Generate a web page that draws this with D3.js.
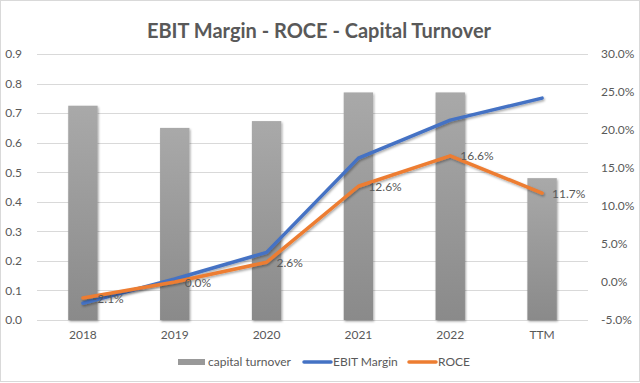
<!DOCTYPE html>
<html>
<head>
<meta charset="utf-8">
<script src="https://cdn.jsdelivr.net/npm/d3@7"></script>
<style>
  body { margin: 0; background: #fff; }
  #chart text { font-family: Lato, "Open Sans", sans-serif; fill: #595959; }
</style>
</head>
<body>
<div id="chart"></div>
<script>
var categories = ["2018", "2019", "2020", "2021", "2022", "TTM"];
var capitalTurnover = [0.725, 0.65, 0.673, 0.77, 0.77, 0.48];
var ebitMargin = [-2.8, 0.4, 3.9, 16.3, 21.3, 24.2];
var roce = [-2.1, 0.0, 2.6, 12.6, 16.6, 11.7];
var leftTicks = [0, 0.1, 0.2, 0.3, 0.4, 0.5, 0.6, 0.7, 0.8, 0.9];
var rightTicks = [-5, 0, 5, 10, 15, 20, 25, 30];

var W = 640, H = 383;
var margin = {top: 54, right: 52, bottom: 63, left: 37},
    width = W - margin.left - margin.right,
    height = H - margin.top - margin.bottom;

var svg = d3.select("#chart").append("svg")
    .attr("width", W)
    .attr("height", H);

var defs = svg.append("defs");
var grad = defs.append("linearGradient").attr("id", "barGrad")
    .attr("x1", 0).attr("y1", 0).attr("x2", 0).attr("y2", 1);
grad.append("stop").attr("offset", "0%").attr("stop-color", "#a9a9a9");
grad.append("stop").attr("offset", "100%").attr("stop-color", "#8a8a8a");
var sh = defs.append("filter").attr("id", "shadow")
    .attr("x", "-20%").attr("y", "-20%").attr("width", "140%").attr("height", "140%");
sh.append("feDropShadow").attr("dx", 1).attr("dy", 1.5).attr("stdDeviation", 1)
    .attr("flood-color", "#000").attr("flood-opacity", 0.35);

// border
svg.append("rect")
    .attr("x", 0.5).attr("y", 0.5)
    .attr("width", W - 1).attr("height", H - 2)
    .attr("fill", "none").attr("stroke", "#d9d9d9");

svg.append("text")
    .attr("x", 319).attr("y", 38)
    .attr("text-anchor", "middle")
    .style("font-size", "20px").style("font-weight", "bold")
    .text("EBIT Margin - ROCE - Capital Turnover");

var g = svg.append("g").attr("transform", "translate(" + margin.left + "," + margin.top + ")");

var x = d3.scaleBand().domain(categories).range([0, width]).paddingInner(0.68).paddingOuter(0.34);
var y = d3.scaleLinear().domain([0, 0.9]).range([height, 0]);
var y2 = d3.scaleLinear().domain([-5, 30]).range([height, 0]);
var cx = function(d, i) { return x(categories[i]) + x.bandwidth() / 2; };

// gridlines
g.append("g").selectAll("line").data(leftTicks).enter().append("line")
    .attr("x1", 0).attr("x2", width)
    .attr("y1", function(d) { return Math.round(y(d)) + 0.5; })
    .attr("y2", function(d) { return Math.round(y(d)) + 0.5; })
    .attr("stroke", "#d9d9d9").attr("stroke-width", 1);

// left axis
var yAxis = g.append("g")
    .attr("transform", "translate(-12,0)")
    .call(d3.axisLeft(y).tickValues(leftTicks).tickFormat(d3.format(".1f")).tickSize(0));
yAxis.select(".domain").remove();
yAxis.selectAll("text").style("font-size", "12px");

// right axis
var y2Axis = g.append("g")
    .attr("transform", "translate(" + (width + 13) + ",0)")
    .call(d3.axisRight(y2).tickValues(rightTicks).tickFormat(function(d) { return d.toFixed(1) + "%"; }).tickSize(0));
y2Axis.select(".domain").remove();
y2Axis.selectAll("text").style("font-size", "12px").attr("x", 0);

// x axis
var xAxis = g.append("g")
    .attr("transform", "translate(0," + height + ")")
    .call(d3.axisBottom(x).tickSize(0).tickPadding(10));
xAxis.select(".domain").remove();
xAxis.selectAll("text").style("font-size", "12px");

// bars
g.append("g").selectAll("rect").data(capitalTurnover).enter().append("rect")
    .attr("x", function(d, i) { return x(categories[i]); })
    .attr("width", x.bandwidth())
    .attr("y", function(d) { return y(d); })
    .attr("height", function(d) { return height - y(d); })
    .attr("fill", "url(#barGrad)")
    .attr("filter", "url(#shadow)");

var line = d3.line()
    .x(cx)
    .y(function(d) { return y2(d); });

g.append("path").datum(ebitMargin)
    .attr("d", line).attr("fill", "none")
    .attr("stroke", "#4472C4").attr("stroke-width", 3.5)
    .attr("stroke-linejoin", "round").attr("stroke-linecap", "round")
    .attr("filter", "url(#shadow)");

g.append("path").datum(roce)
    .attr("d", line).attr("fill", "none")
    .attr("stroke", "#ED7D31").attr("stroke-width", 3.5)
    .attr("stroke-linejoin", "round").attr("stroke-linecap", "round")
    .attr("filter", "url(#shadow)");

// ROCE labels
g.append("g").selectAll("text").data(roce).enter().append("text")
    .attr("x", function(d, i) { return cx(d, i) + 10; })
    .attr("y", function(d) { return y2(d); })
    .attr("dy", "0.38em")
    .style("font-size", "12px")
    .text(function(d) { return d.toFixed(1) + "%"; });

// legend
var legend = svg.append("g").attr("transform", "translate(0,362)");
legend.append("rect").attr("x", 178).attr("y", -3).attr("width", 27).attr("height", 6).attr("fill", "#999999");
legend.append("text").attr("x", 208).attr("dy", "0.35em").style("font-size", "12px").text("capital turnover");
legend.append("line").attr("x1", 304).attr("x2", 331).attr("stroke", "#4472C4").attr("stroke-width", 3.5).attr("stroke-linecap", "round");
legend.append("text").attr("x", 333).attr("dy", "0.35em").style("font-size", "12px").text("EBIT Margin");
legend.append("line").attr("x1", 409).attr("x2", 436).attr("stroke", "#ED7D31").attr("stroke-width", 3.5).attr("stroke-linecap", "round");
legend.append("text").attr("x", 438).attr("dy", "0.35em").style("font-size", "12px").text("ROCE");
</script>
</body>
</html>
